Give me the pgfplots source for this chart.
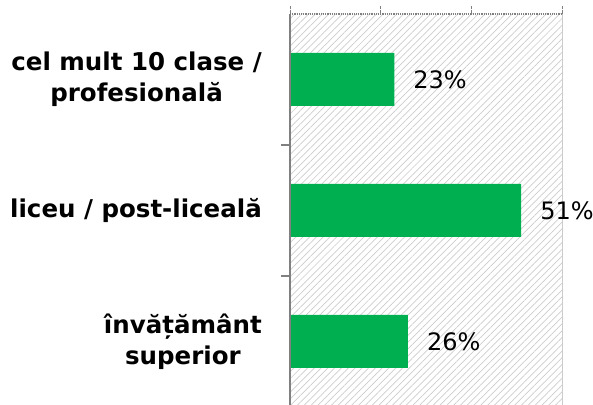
\documentclass[border=0pt]{standalone}
\usepackage{pgfplots}
\pgfplotsset{compat=1.18}
\usepackage{fontspec}
\setmainfont{DejaVu Sans}
\usetikzlibrary{patterns.meta}
\definecolor{barg}{HTML}{00B050}
\begin{document}
\begin{tikzpicture}[x=1pt,y=1pt]
\begin{axis}[
  at={(290pt,390pt)}, anchor=north west,
  scale only axis, width=272pt, height=393pt,
  xmin=0, xmax=60, ymin=-0.5, ymax=2.5,
  xbar, bar width=53pt,
  /pgf/number format/assume math mode=true,
  axis line style={draw=none},
  axis background/.style={pattern={Lines[angle=45,distance=4.8pt,line width=0.7pt]}, pattern color=gray!40},
  xtick={0,20,40,60}, xticklabels={}, xtick pos=upper,
  x tick style={densely dotted, gray, line width=1pt},
  tick align=outside, major tick length=8pt,
  ytick={0,1,2}, ytick pos=left,
  y tick style={draw=none},
  yticklabels={{învățământ\\superior},{liceu / post-liceală},{cel mult 10 clase /\\profesională}},
  yticklabel style={align=center, anchor=east, inner sep=0pt, xshift=-20pt,
    font=\bfseries\fontsize{24.5}{31}\selectfont},
  extra y ticks={0.5,1.5}, extra y tick labels={},
  extra y tick style={y tick style={draw=gray, line width=1.2pt}, major tick length=9pt},
  point meta=x,
  nodes near coords={\pgfmathprintnumber{\pgfplotspointmeta}\%},
  nodes near coords style={anchor=west, inner sep=0pt, xshift=19pt, font=\fontsize{24}{24}\selectfont, black},
  clip=false,
]
\addplot[fill=barg, draw=none] coordinates {(26,0) (51,1) (23,2)};
\draw[gray!40, line width=1pt] (rel axis cs:1,0) -- (rel axis cs:1,1);
\draw[gray, densely dotted, line width=1.2pt] (rel axis cs:0,1) -- (rel axis cs:1,1);
\draw[gray, line width=1.5pt] (rel axis cs:0,0) -- (rel axis cs:0,1);
\end{axis}
\pgfresetboundingbox
\path[use as bounding box] (0,0) rectangle (593,404);
\end{tikzpicture}
\end{document}
